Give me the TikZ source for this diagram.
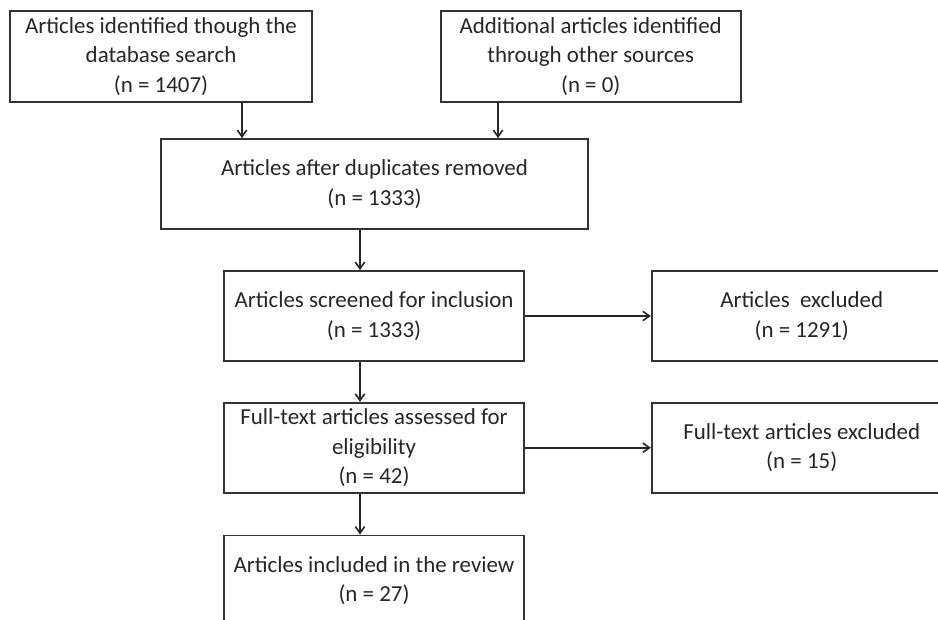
\documentclass[tikz,border=0pt]{standalone}
\usepackage{fontspec}
\setmainfont{Carlito}
\usetikzlibrary{arrows.meta, positioning}

\begin{document}
\begin{tikzpicture}[x=0.75pt, y=-0.75pt,
    font=\fontsize{17.2}{22}\selectfont,
    box/.style={draw=black!80, line width=1.3pt,
        minimum width=225pt, minimum height=67.5pt,
        inner sep=0pt, align=center, text=black!85},
    arr/.style={draw=black!85, line width=1.2pt,
        -{Straight Barb[length=5pt,width=7pt]}}]

\useasboundingbox (0,0) rectangle (938,619);
\clip (0,0) rectangle (938,619);

% Identification
\node[box, minimum width=226.5pt, minimum height=68.25pt] (ident) at (161,56.5)
    {Articles identified though the\\database search\\(n = 1407)};

\node[box, minimum height=68.25pt,
    right=95.25pt of ident
] (other) {Additional articles identified\\through other sources\\(n = 0)};

% Screening
\node[box, minimum width=320.25pt] (dedup) at (374.5,184)
    {Articles after duplicates removed\\(n = 1333)};

\node[box] (screen) at (374,316) {Articles screened for inclusion\\(n = 1333)};

\node[box,
    right=94.5pt of screen
] (excl) {Articles~ excluded\\(n = 1291)};

% Eligibility
\node[box,
    below=30pt of screen
] (full) {Full-text articles assessed for\\eligibility\\(n = 42)};

\node[box,
    right=94.5pt of full
] (fullexcl) {Full-text articles excluded\\(n = 15)};

% Included
\node[box,
    below=30.75pt of full
] (incl) {Articles included in the review\\(n = 27)};

% Arrows
\coordinate (c1) at (242,0);
\coordinate (c2) at (498,0);
\coordinate (c3) at (360,0);
\draw [arr] (ident.south -| c1) -- (dedup.north -| c1);
\draw [arr] (other.south -| c2) -- (dedup.north -| c2);
\draw [arr] (dedup.south -| c3) -- (screen.north -| c3);
\draw [arr] (screen.east) -- (excl.west);
\draw [arr] (screen.south -| c3) -- (full.north -| c3);
\draw [arr] (full.east) -- (fullexcl.west);
\draw [arr] (full.south -| c3) -- (incl.north -| c3);
\end{tikzpicture}
\end{document}
